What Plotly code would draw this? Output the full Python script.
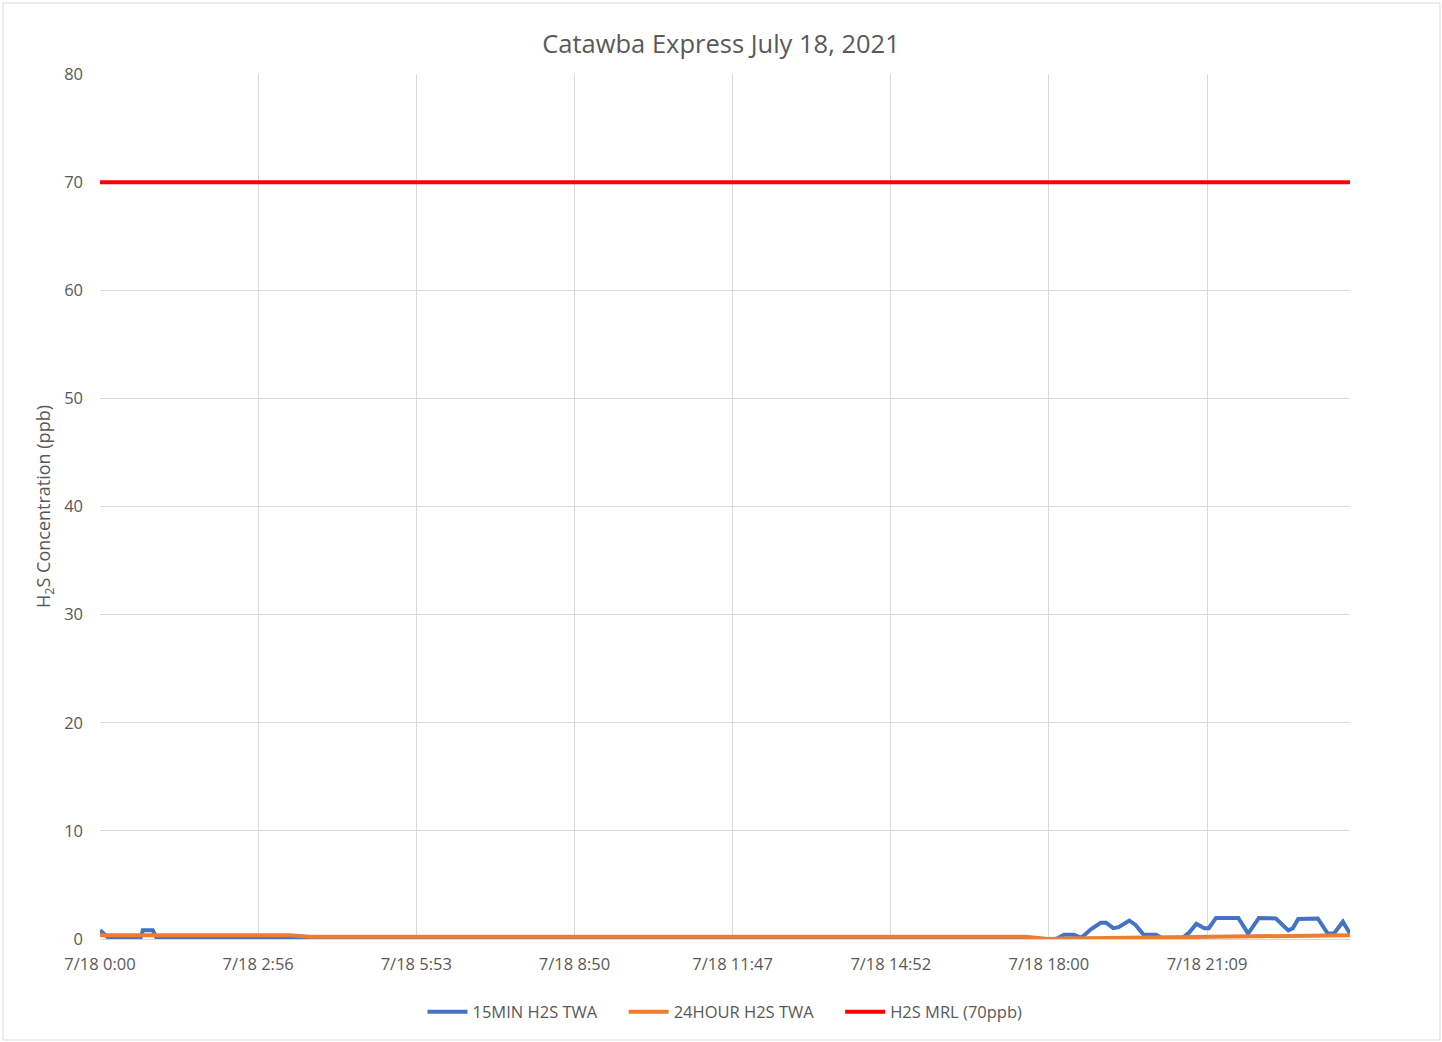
import plotly.graph_objects as go

# x = sample index (one category per reading); tick labels every 177 samples
tick_idx = [0, 177, 354, 531, 708, 885, 1062, 1239]
tick_labels = ["7/18 0:00", "7/18 2:56", "7/18 5:53", "7/18 8:50",
               "7/18 11:47", "7/18 14:52", "7/18 18:00", "7/18 21:09"]

min15_x = [0, 11, 45, 48, 59, 64, 1070, 1079, 1090, 1098, 1109, 1120, 1126, 1134, 1140,
           1152, 1159, 1168, 1182, 1190, 1210, 1219, 1227, 1236, 1241, 1249, 1274, 1285,
           1297, 1316, 1330, 1335, 1341, 1363, 1374, 1381, 1391, 1399]
min15_y = [0.8, 0, 0, 0.8, 0.8, 0, 0, 0.4, 0.4, 0.1, 0.9, 1.5, 1.5, 1.0, 1.1,
           1.7, 1.3, 0.4, 0.4, 0, 0, 0.6, 1.4, 1.0, 1.0, 1.95, 1.95, 0.5,
           1.95, 1.9, 0.8, 1.0, 1.85, 1.9, 0.5, 0.5, 1.6, 0.5]

hr24_x = [0, 212, 235, 1036, 1061, 1080, 1399]
hr24_y = [0.35, 0.35, 0.2, 0.2, 0.0, 0.05, 0.35]

mrl_x = [0, 1399]
mrl_y = [70, 70]

series_names = ["15MIN H2S TWA", "24HOUR H2S TWA", "H2S MRL (70ppb)"]

font_family = "Open Sans, Liberation Sans, sans-serif"
txt = "#595959"
grid = "#D9D9D9"
pad = "\u00a0" * 5

fig = go.Figure()
fig.add_trace(go.Scatter(x=min15_x, y=min15_y, mode="lines", name=series_names[0] + pad,
                         line=dict(color="#4472C4", width=4), cliponaxis=False))
fig.add_trace(go.Scatter(x=hr24_x, y=hr24_y, mode="lines", name=series_names[1] + pad,
                         line=dict(color="#ED7D31", width=4), cliponaxis=False))
fig.add_trace(go.Scatter(x=mrl_x, y=mrl_y, mode="lines", name=series_names[2],
                         line=dict(color="#FF0000", width=4), cliponaxis=False))

fig.update_layout(
    width=1442, height=1042,
    paper_bgcolor="white", plot_bgcolor="white",
    margin=dict(l=100, r=92, t=74, b=103),
    font=dict(family=font_family, color=txt, size=16),
    title=dict(text="Catawba Express July 18, 2021", x=0.5, xanchor="center",
               y=1 - 44 / 1042, yanchor="middle",
               font=dict(size=25.5, color=txt, family=font_family)),
    showlegend=True,
    legend=dict(orientation="h", x=0.5, xanchor="center", y=(939 - 1012) / 865,
                yanchor="middle",
                font=dict(size=16.5, color=txt), itemwidth=40, tracegroupgap=0,
                bgcolor="rgba(0,0,0,0)"),
    xaxis=dict(range=[0, 1399], tickvals=tick_idx, ticktext=tick_labels,
               showgrid=True, gridcolor=grid, gridwidth=1, zeroline=False,
               showline=False, ticks="", ticklabelstandoff=13,
               tickfont=dict(size=16.5, color=txt)),
    yaxis=dict(range=[0, 80], dtick=10, tick0=0, showgrid=True, gridcolor=grid,
               gridwidth=1, zeroline=True, zerolinecolor=grid, zerolinewidth=1,
               showline=False, ticks="", ticklabelstandoff=16,
               tickfont=dict(size=16.5, color=txt),
               title=dict(text="H<sub>2</sub>S Concentration (ppb)", standoff=8,
                          font=dict(size=18, color=txt))),
)

# outer chart border
fig.add_shape(type="rect", xref="paper", yref="paper",
              x0=(3 - 100) / 1250, x1=(1440 - 100) / 1250,
              y0=(939 - 1040) / 865, y1=(939 - 3) / 865,
              line=dict(color=grid, width=1), fillcolor="rgba(0,0,0,0)", layer="below")

fig.write_html("out.html", config={"displayModeBar": False},
               post_script="document.body.style.margin='0';document.body.style.overflow='hidden';")
